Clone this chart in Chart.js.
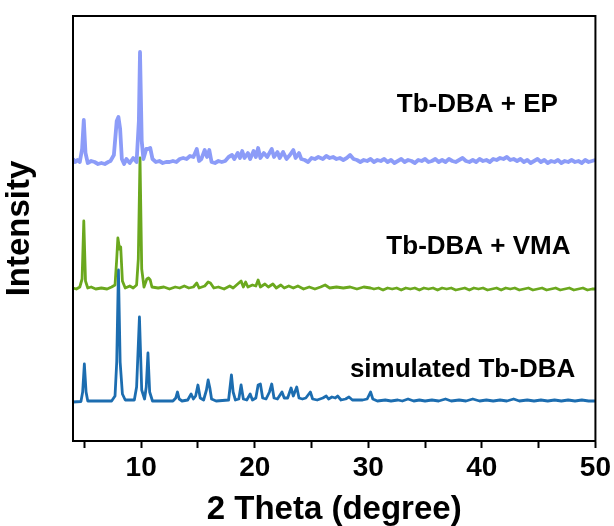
<!DOCTYPE html>
<html>
<head>
<meta charset="utf-8">
<script src="https://cdn.jsdelivr.net/npm/chart.js@4.4.1/dist/chart.umd.min.js"></script>
<style>
  html, body { margin: 0; padding: 0; background: #fff; }
  #wrap { width: 614px; height: 526px; position: relative; }
</style>
</head>
<body>
<div id="wrap"><canvas id="xrd"></canvas></div>
<script>
// 2 Theta (deg), intensity above each pattern's own baseline
const simulated = [
  [4.0, 0], [4.7, 0.5], [4.85, 10], [5.0, 38], [5.15, 10], [5.3, 1], [7.4, 1], [7.7, 6], [7.85, 40], [8.0, 132],
  [8.15, 40], [8.35, 8], [8.6, 2], [9.4, 2], [9.6, 15], [9.85, 85], [10.05, 12], [10.3, 3], [10.45, 15], [10.6, 49],
  [10.75, 10], [11.0, 1], [12.8, 1], [13.05, 4], [13.2, 10], [13.35, 3], [13.6, 1], [14.1, 2], [14.4, 8], [14.6, 3],
  [14.8, 6], [15.0, 17], [15.2, 4], [15.5, 2], [15.75, 12], [15.9, 22], [16.05, 14], [16.2, 3], [16.6, 1], [17.7, 2],
  [17.95, 27], [18.1, 10], [18.3, 2], [18.6, 3], [18.8, 17], [19.0, 3], [19.3, 2], [19.6, 8], [19.8, 2], [20.1, 4],
  [20.3, 17], [20.5, 18], [20.7, 4], [21.0, 3], [21.3, 10], [21.5, 18], [21.7, 4], [22.0, 3], [22.4, 10], [22.6, 4],
  [22.9, 4], [23.2, 14], [23.4, 6], [23.7, 15], [23.9, 4], [24.2, 3], [24.5, 4], [24.9, 10], [25.1, 3], [25.5, 2],
  [26.0, 4], [26.3, 6], [26.5, 3], [26.8, 5], [27.1, 4], [27.3, 6], [27.6, 2], [28.0, 3], [28.3, 5], [28.6, 2],
  [29.0, 2], [29.5, 2], [29.9, 3], [30.2, 10], [30.4, 3], [30.8, 1], [31.5, 2], [32.0, 1], [32.6, 2], [33.0, 1],
  [33.5, 3], [34.0, 1], [34.5, 2], [35.0, 1], [35.6, 2], [36.2, 1], [36.8, 3], [37.3, 1], [38.0, 2], [38.6, 1],
  [39.2, 3], [39.8, 1], [40.4, 2], [41.0, 1], [41.6, 2], [42.2, 1], [42.8, 3], [43.3, 1], [44.0, 2], [44.6, 1],
  [45.2, 2], [45.8, 1], [46.4, 2], [47.0, 1], [47.6, 2], [48.2, 1], [48.8, 2], [49.4, 1], [50.0, 1]
];
const vma = [
  [4.0, 1], [4.3, 0], [4.6, 2], [4.8, 10], [4.95, 68], [5.1, 8], [5.3, 1], [5.6, 2], [6.0, 0], [6.5, 1],
  [7.0, 0], [7.4, 2], [7.7, 4], [7.85, 30], [7.95, 51], [8.1, 40], [8.2, 42], [8.35, 8], [8.6, 1], [9.0, 3],
  [9.3, 1], [9.6, 4], [9.75, 30], [9.9, 131], [10.05, 20], [10.25, 2], [10.5, 10], [10.65, 11], [10.8, 9], [10.95, 2],
  [11.5, 1], [12.0, 2], [12.5, 0], [13.0, 2], [13.4, 1], [13.8, 3], [14.2, 1], [14.6, 2], [14.9, 6], [15.1, 1],
  [15.6, 3], [15.9, 7], [16.1, 6], [16.4, 1], [16.8, 2], [17.3, 0], [17.8, 3], [18.1, 1], [18.5, 5], [18.8, 8],
  [19.0, 2], [19.2, 7], [19.4, 2], [19.8, 4], [20.1, 3], [20.3, 9], [20.5, 2], [20.9, 5], [21.2, 2], [21.6, 5],
  [21.9, 1], [22.3, 4], [22.6, 1], [23.0, 3], [23.4, 1], [23.8, 3], [24.3, 0], [24.8, 2], [25.3, 0], [25.8, 2],
  [26.2, 4], [26.6, 1], [27.2, 2], [27.8, 1], [28.4, 2], [29.0, 0], [29.6, 2], [30.2, 1], [30.5, 0], [30.9, 1],
  [31.3, -1], [31.7, 1], [32.1, 0], [32.5, 1], [32.9, -1], [33.3, 1], [33.7, 0], [34.1, 1], [34.5, -1], [34.9, 1],
  [35.3, 0], [35.7, 1], [36.1, -1], [36.5, 1], [36.9, 0], [37.3, 1], [37.7, -1], [38.1, 0], [38.5, 1], [38.9, -1],
  [39.3, 1], [39.7, 0], [40.1, 1], [40.5, -1], [40.9, 0], [41.3, 1], [41.7, -1], [42.1, 1], [42.5, 0], [42.9, 1],
  [43.3, -1], [43.7, 0], [44.1, 1], [44.5, -1], [44.9, 0], [45.3, 1], [45.7, -1], [46.1, 0], [46.5, 1], [46.9, -1],
  [47.3, 0], [47.7, 1], [48.1, -1], [48.5, 0], [48.9, 1], [49.3, -1], [49.7, 0], [50.0, 0]
];
const ep = [
  [4.0, 2], [4.2, -1], [4.4, 1], [4.6, -1], [4.8, 12], [4.95, 41], [5.1, 8], [5.3, -2], [5.6, 0], [5.9, -1],
  [6.2, -3], [6.5, -2], [6.8, -3], [7.1, -1], [7.3, 0], [7.6, 6], [7.85, 40], [8.0, 44], [8.15, 32], [8.3, 2],
  [8.5, -3], [8.7, 2], [9.0, -2], [9.3, 3], [9.6, -1], [9.8, 40], [9.9, 109], [10.05, 20], [10.2, 2], [10.45, 12],
  [10.6, 12], [10.8, 13], [11.0, 2], [11.3, -1], [11.6, 0], [11.9, -2], [12.2, -1], [12.5, -1], [12.8, 0], [13.1, -1],
  [13.4, 2], [13.7, 3], [14.0, 2], [14.3, 5], [14.6, 4], [14.9, 12], [15.1, 0], [15.3, 2], [15.6, 11], [15.8, 4],
  [16.0, 11], [16.2, -1], [16.5, -2], [16.8, 0], [17.1, -1], [17.4, 0], [17.7, 4], [18.0, 6], [18.2, 2], [18.5, 8],
  [18.7, 3], [18.9, 10], [19.1, 3], [19.4, 8], [19.6, 2], [19.9, 10], [20.1, 4], [20.3, 13], [20.5, 3], [20.8, 8],
  [21.1, 4], [21.5, 12], [21.7, 4], [22.0, 9], [22.2, 3], [22.5, 9], [22.8, 2], [23.1, 6], [23.4, 11], [23.6, 3],
  [23.9, 8], [24.1, 2], [24.4, 1], [24.7, -1], [25.0, 3], [25.3, 2], [25.6, 4], [26.0, 2], [26.3, 5], [26.6, 3],
  [26.9, 4], [27.2, 2], [27.5, 3], [27.8, 1], [28.1, 3], [28.4, 6], [28.7, 2], [29.0, 1], [29.3, -1], [29.6, 1],
  [29.9, 0], [30.2, 2], [30.5, -1], [30.8, 1], [31.1, 0], [31.4, 2], [31.7, -1], [32.0, 1], [32.3, -2], [32.6, 0],
  [32.9, 2], [33.2, -1], [33.5, 1], [33.8, 0], [34.1, -2], [34.4, 1], [34.7, 0], [35.0, 2], [35.3, -1], [35.6, 0],
  [35.9, 2], [36.2, -1], [36.5, 1], [36.8, -1], [37.1, 2], [37.4, 0], [37.7, -1], [38.0, 1], [38.3, 3], [38.6, 0],
  [38.9, -1], [39.2, 1], [39.5, -1], [39.8, 2], [40.1, 0], [40.4, 1], [40.7, -1], [41.0, 2], [41.3, 1], [41.6, 3],
  [41.9, 2], [42.2, 4], [42.5, 1], [42.8, 2], [43.1, 0], [43.4, 2], [43.7, -1], [44.0, 1], [44.3, -2], [44.6, 0],
  [44.9, 2], [45.2, -1], [45.5, 1], [45.8, -2], [46.1, 0], [46.4, -1], [46.7, 1], [47.0, -2], [47.3, 0], [47.6, -1],
  [47.9, 1], [48.2, -1], [48.5, 0], [48.8, -2], [49.1, 1], [49.4, -1], [49.7, 0], [50.0, 1]
];

// vertical stacking offsets of the three patterns
const offsets = [39, 152, 280];
const names = ['simulated Tb-DBA', 'Tb-DBA + VMA', 'Tb-DBA + EP'];
const colors = ['#1c6db0', '#6ba81e', '#8c9cf8'];
const widths = [2.8, 2.8, 3.8];
const xTicks = [5, 10, 15, 20, 25, 30, 35, 40, 45, 50];
// where each name sits (2 Theta, intensity)
const labelX = [38.3, 39.7, 39.6];
const labelY = [71, 194, 336];

const patterns = [simulated, vma, ep];

const frame = {
  id: 'frame',
  afterDatasetsDraw(chart) {
    const { ctx, chartArea: a } = chart;
    ctx.save();
    ctx.strokeStyle = '#000';
    ctx.lineWidth = 2;
    ctx.strokeRect(a.left, a.top, a.right - a.left, a.bottom - a.top);
    ctx.restore();
  }
};

const names_plugin = {
  id: 'names',
  afterDraw(chart) {
    const { ctx, scales } = chart;
    ctx.save();
    ctx.fillStyle = '#000';
    ctx.font = 'bold 26px "Liberation Sans", Arial, sans-serif';
    ctx.textAlign = 'center';
    ctx.textBaseline = 'middle';
    names.forEach((t, i) => {
      ctx.fillText(t, scales.x.getPixelForValue(labelX[i]), scales.y.getPixelForValue(labelY[i]));
    });
    ctx.restore();
  }
};

document.addEventListener('DOMContentLoaded', () => {
  const canvas = document.querySelector('#xrd');
  const font = '"Liberation Sans", Arial, sans-serif';

  const datasets = patterns.map((p, i) => ({
    label: names[i],
    data: p.map(([x, y]) => ({ x: x, y: y + offsets[i] })),
    borderColor: colors[i],
    borderWidth: widths[i],
    borderJoinStyle: 'round',
    pointRadius: 0,
    tension: 0,
    fill: false
  }));

  new Chart(canvas, {
    type: 'line',
    data: { datasets: datasets.reverse() },
    options: {
      responsive: true,
      maintainAspectRatio: false,
      animation: false,
      layout: { padding: { top: 16, right: 16, left: 0, bottom: 0 } },
      plugins: { legend: { display: false }, tooltip: { enabled: false } },
      scales: {
        x: {
          type: 'linear',
          min: 4,
          max: 50,
          afterBuildTicks: (s) => { s.ticks = xTicks.map((v) => ({ value: v })); },
          afterFit: (s) => { s.height = 85; },
          border: { display: true, color: '#000', width: 2 },
          grid: { drawOnChartArea: false, tickLength: 7, tickWidth: 2, tickColor: '#000' },
          ticks: {
            color: '#000',
            padding: 3,
            maxRotation: 0,
            autoSkip: false,
            font: { family: font, size: 28, weight: 'bold' },
            callback: (v) => (v % 10 === 0 ? v : '')
          },
          title: {
            display: true,
            text: '2 Theta (degree)',
            color: '#000',
            padding: { top: 0, bottom: 0 },
            font: { family: font, size: 33, weight: 'bold', lineHeight: 1 }
          }
        },
        y: {
          min: 0,
          max: 425,
          afterFit: (s) => { s.width = 73; },
          border: { display: true, color: '#000', width: 2 },
          grid: { display: false },
          ticks: { display: false },
          title: {
            display: true,
            text: 'Intensity',
            color: '#000',
            padding: { top: 0, bottom: 0 },
            font: { family: font, size: 33, weight: 'bold' }
          }
        }
      }
    },
    plugins: [frame, names_plugin]
  });
});
</script>
</body>
</html>
